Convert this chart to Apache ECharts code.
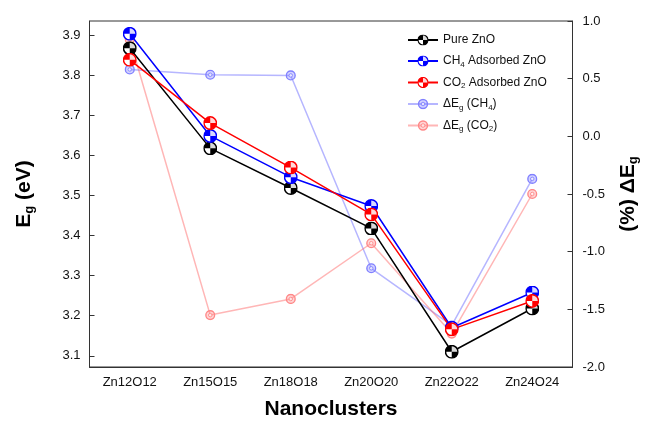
<!DOCTYPE html>
<html><head><meta charset="utf-8">
<script src="https://cdn.jsdelivr.net/npm/echarts@6/dist/echarts.min.js"></script>
<style>html,body{margin:0;padding:0;background:#fff}#c{width:655px;height:431px}</style>
</head><body><div id="c"></div>
<script>
var categories = ['Zn12O12','Zn15O15','Zn18O18','Zn20O20','Zn22O22','Zn24O24'];
var pureZnO = [3.868, 3.618, 3.519, 3.418, 3.110, 3.218];
var ch4ZnO = [3.904, 3.649, 3.546, 3.474, 3.170, 3.258];
var co2ZnO = [3.839, 3.681, 3.570, 3.453, 3.166, 3.237];
var dCH4 = [0.58, 0.534, 0.528, -1.144, -1.64, -0.369];
var dCO2 = [0.84, -1.55, -1.41, -0.927, -1.71, -0.50];
var leftTicks = [3.1, 3.2, 3.3, 3.4, 3.5, 3.6, 3.7, 3.8, 3.9];

function ball(c){
  var s = '<svg xmlns="http://www.w3.org/2000/svg" width="28" height="28" viewBox="0 0 28 28">' +
    '<circle cx="14" cy="14" r="12.5" fill="#fff"/>' +
    '<path d="M14 14 L14 1.5 A12.5 12.5 0 0 0 1.5 14 Z" fill="' + c + '"/>' +
    '<path d="M14 14 L14 26.5 A12.5 12.5 0 0 0 26.5 14 Z" fill="' + c + '"/>' +
    '<path d="M14 14 L26.5 14 A12.5 12.5 0 0 0 14 1.5 Z" fill="' + c + '" opacity="0.15"/>' +
    '<circle cx="14" cy="14" r="12.5" fill="none" stroke="' + c + '" stroke-width="3"/></svg>';
  return 'image://data:image/svg+xml;charset=utf-8,' + encodeURIComponent(s);
}
function ring(c){
  var s = '<svg xmlns="http://www.w3.org/2000/svg" width="20" height="20" viewBox="0 0 20 20">' +
    '<circle cx="10" cy="10" r="8" fill="' + c + '" fill-opacity="0.35" stroke="' + c + '" stroke-width="2.5"/>' +
    '<circle cx="10" cy="10" r="3.2" fill="#fff" fill-opacity="0.7" stroke="' + c + '" stroke-width="1.6"/></svg>';
  return 'image://data:image/svg+xml;charset=utf-8,' + encodeURIComponent(s);
}

var chart = echarts.init(document.getElementById('c'), null, {renderer:'canvas'});
var font = 'Liberation Sans, Arial, sans-serif';
var legendRich = {
  n: {fontSize: 12, fontFamily: font, color: '#111'},
  s: {fontSize: 8, fontFamily: font, color: '#111', padding: [7, 0, 0, 0]}
};
var names = {
  'Pure ZnO': '{n|Pure ZnO}',
  'CH4 Adsorbed ZnO': '{n|CH}{s|4}{n| Adsorbed ZnO}',
  'CO2 Adsorbed ZnO': '{n|CO}{s|2}{n| Adsorbed ZnO}',
  'dEg (CH4)': '{n|ΔE}{s|g}{n| (CH}{s|4}{n|)}',
  'dEg (CO2)': '{n|ΔE}{s|g}{n| (CO}{s|2}{n|)}'
};
chart.setOption({
  animation: false,
  backgroundColor: '#fff',
  textStyle: {fontFamily: font},
  grid: {left: 89.5, right: 82.5, top: 21, bottom: 64, show: true, borderColor: '#333', borderWidth: 1},
  legend: {
    orient: 'vertical', left: 402, top: 28, itemWidth: 30, itemHeight: 14, itemGap: 7,
    data: ['Pure ZnO','CH4 Adsorbed ZnO','CO2 Adsorbed ZnO','dEg (CH4)','dEg (CO2)'],
    formatter: function(n){ return names[n]; },
    textStyle: {rich: legendRich, height: 14, lineHeight: 14}
  },
  xAxis: {
    type: 'category', data: categories, boundaryGap: true,
    name: 'Nanoclusters', nameLocation: 'middle', nameGap: 32,
    nameTextStyle: {fontSize: 21, fontWeight: 'bold', color: '#000', fontFamily: font},
    axisLine: {onZero: false, lineStyle: {color: '#333', width: 1}},
    axisTick: {alignWithLabel: true, inside: true, length: 5, lineStyle: {color: '#333'}},
    axisLabel: {fontSize: 13, color: '#111', margin: 9, fontFamily: font}
  },
  yAxis: [{
    type: 'value', min: 3.072, max: 3.936, position: 'left',
    name: '{b|E}{bs|g}{b| (eV)}', nameLocation: 'middle', nameGap: 54, nameRotate: 90,
    nameTextStyle: {rich: {
      b: {fontSize: 21, fontWeight: 'bold', color: '#000', fontFamily: font},
      bs: {fontSize: 13, fontWeight: 'bold', color: '#000', fontFamily: font, padding: [10,0,0,0]}
    }},
    axisLine: {show: true, onZero: false, lineStyle: {color: '#333'}},
    axisTick: {show: true, inside: true, length: 5, customValues: leftTicks, lineStyle: {color: '#333'}},
    axisLabel: {fontSize: 13, color: '#111', margin: 9, customValues: leftTicks, fontFamily: font,
      formatter: function(v){ return v.toFixed(1); }},
    splitLine: {show: false}
  }, {
    type: 'value', min: -2, max: 1, interval: 0.5, position: 'right',
    name: '{b|(%) ΔE}{bs|g}', nameLocation: 'middle', nameGap: 44, nameRotate: 90,
    nameTextStyle: {rich: {
      b: {fontSize: 21, fontWeight: 'bold', color: '#000', fontFamily: font},
      bs: {fontSize: 13, fontWeight: 'bold', color: '#000', fontFamily: font, padding: [10,0,0,0]}
    }},
    axisLine: {show: true, onZero: false, lineStyle: {color: '#333'}},
    axisTick: {show: true, inside: true, length: 5, lineStyle: {color: '#333'}},
    axisLabel: {fontSize: 13, color: '#111', margin: 10, fontFamily: font,
      formatter: function(v){ return v.toFixed(1); }},
    splitLine: {show: false}
  }],
  series: [
    {name: 'dEg (CH4)', type: 'line', yAxisIndex: 1, data: dCH4, symbol: ring('#8080ff'), symbolSize: 11,
     itemStyle: {color: '#aaaaff'}, lineStyle: {color: 'rgba(110,110,255,0.5)', width: 1.5}, z: 2},
    {name: 'dEg (CO2)', type: 'line', yAxisIndex: 1, data: dCO2, symbol: ring('#ff8888'), symbolSize: 11,
     itemStyle: {color: '#ffaaaa'}, lineStyle: {color: 'rgba(255,110,110,0.5)', width: 1.5}, z: 2},
    {name: 'Pure ZnO', type: 'line', data: pureZnO, symbol: ball('#000000'), symbolSize: 14,
     itemStyle: {color: '#000'}, lineStyle: {color: '#000', width: 1.5}, z: 3},
    {name: 'CH4 Adsorbed ZnO', type: 'line', data: ch4ZnO, symbol: ball('#0000ff'), symbolSize: 14,
     itemStyle: {color: '#0000ff'}, lineStyle: {color: '#0000ff', width: 1.5}, z: 3},
    {name: 'CO2 Adsorbed ZnO', type: 'line', data: co2ZnO, symbol: ball('#ff0000'), symbolSize: 14,
     itemStyle: {color: '#ff0000'}, lineStyle: {color: '#ff0000', width: 1.5}, z: 3}
  ]
});
</script></body></html>
